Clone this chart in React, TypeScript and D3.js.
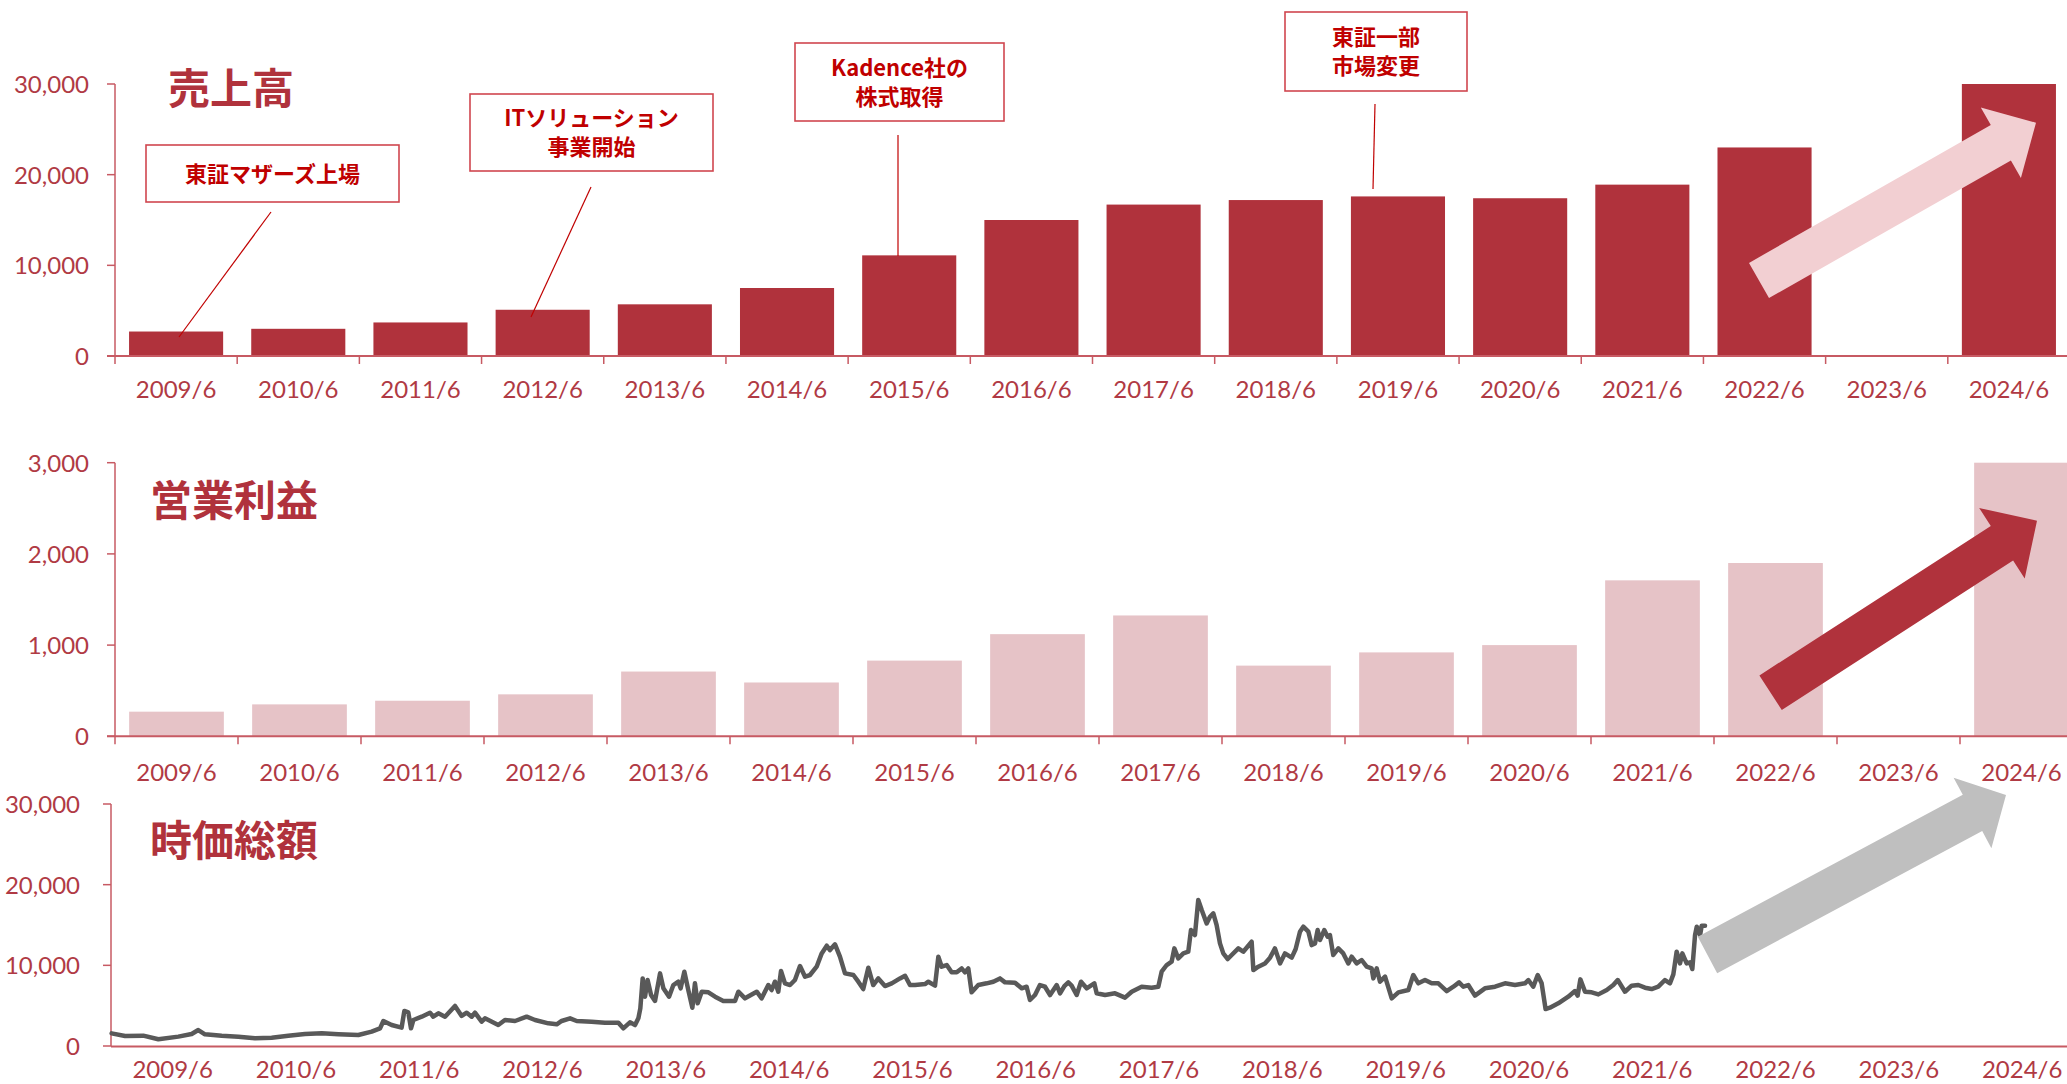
import React from "react";
import * as d3 from "d3";

// ---------- DATA ----------
const categories = [
  "2009/6", "2010/6", "2011/6", "2012/6", "2013/6", "2014/6", "2015/6", "2016/6",
  "2017/6", "2018/6", "2019/6", "2020/6", "2021/6", "2022/6", "2023/6", "2024/6",
];
const salesValues = [2700, 3000, 3700, 5100, 5700, 7500, 11100, 15000, 16700, 17200, 17600, 17400, 18900, 23000, null, 30000];
const profitValues = [270, 350, 390, 460, 710, 590, 830, 1120, 1325, 775, 920, 1000, 1710, 1900, null, 3000];
const salesTicks = [0, 10000, 20000, 30000];
const profitTicks = [0, 1000, 2000, 3000];
const mcapTicks = [0, 10000, 20000, 30000];
const labelYears = [2009, 2010, 2011, 2012, 2013, 2014, 2015, 2016, 2017, 2018, 2019, 2020, 2021, 2022, 2023, 2024];

const mcapYears = [
  2009.005, 2009.114, 2009.262, 2009.384, 2009.546, 2009.654, 2009.708, 2009.762, 2009.898, 2010.033,
  2010.168, 2010.303, 2010.438, 2010.573, 2010.709, 2010.844, 2011.006, 2011.114, 2011.182, 2011.209,
  2011.276, 2011.357, 2011.379, 2011.411, 2011.433, 2011.452, 2011.52, 2011.587, 2011.614, 2011.655,
  2011.709, 2011.79, 2011.844, 2011.885, 2011.925, 2011.952, 2012.006, 2012.033, 2012.141, 2012.195,
  2012.277, 2012.371, 2012.439, 2012.547, 2012.615, 2012.655, 2012.723, 2012.777, 2012.898, 2013.006,
  2013.115, 2013.155, 2013.209, 2013.25, 2013.277, 2013.293, 2013.312, 2013.331, 2013.352, 2013.38,
  2013.412, 2013.453, 2013.48, 2013.526, 2013.561, 2013.601, 2013.62, 2013.65, 2013.682, 2013.715,
  2013.736, 2013.758, 2013.791, 2013.845, 2013.899, 2013.966, 2014.061, 2014.088, 2014.142, 2014.237,
  2014.277, 2014.331, 2014.358, 2014.385, 2014.412, 2014.434, 2014.466, 2014.507, 2014.547, 2014.588,
  2014.629, 2014.669, 2014.723, 2014.764, 2014.805, 2014.831, 2014.872, 2014.912, 2014.953, 2015.021,
  2015.061, 2015.101, 2015.142, 2015.182, 2015.223, 2015.277, 2015.332, 2015.399, 2015.44, 2015.48,
  2015.521, 2015.602, 2015.629, 2015.683, 2015.71, 2015.737, 2015.778, 2015.818, 2015.859, 2015.899,
  2015.926, 2015.953, 2015.98, 2016.034, 2016.102, 2016.156, 2016.21, 2016.251, 2016.332, 2016.386,
  2016.426, 2016.453, 2016.494, 2016.534, 2016.575, 2016.616, 2016.67, 2016.697, 2016.732, 2016.764,
  2016.791, 2016.832, 2016.867, 2016.913, 2016.975, 2016.994, 2017.062, 2017.143, 2017.224, 2017.278,
  2017.359, 2017.44, 2017.494, 2017.521, 2017.562, 2017.602, 2017.624, 2017.656, 2017.697, 2017.737,
  2017.759, 2017.791, 2017.818, 2017.846, 2017.886, 2017.913, 2017.94, 2017.967, 2017.994, 2018.021,
  2018.057, 2018.089, 2018.143, 2018.183, 2018.251, 2018.265, 2018.305, 2018.359, 2018.4, 2018.44,
  2018.481, 2018.521, 2018.576, 2018.608, 2018.643, 2018.67, 2018.711, 2018.738, 2018.765, 2018.786,
  2018.805, 2018.84, 2018.867, 2018.886, 2018.913, 2018.954, 2018.994, 2019.035, 2019.062, 2019.103,
  2019.143, 2019.184, 2019.224, 2019.238, 2019.265, 2019.292, 2019.333, 2019.387, 2019.441, 2019.522,
  2019.562, 2019.603, 2019.657, 2019.711, 2019.765, 2019.833, 2019.887, 2019.933, 2019.968, 2020.008,
  2020.062, 2020.143, 2020.225, 2020.306, 2020.387, 2020.468, 2020.495, 2020.535, 2020.571, 2020.603,
  2020.635, 2020.67, 2020.738, 2020.819, 2020.873, 2020.895, 2020.917, 2020.955, 2021.009, 2021.063,
  2021.131, 2021.184, 2021.22, 2021.279, 2021.333, 2021.387, 2021.441, 2021.495, 2021.549, 2021.603,
  2021.644, 2021.671, 2021.698, 2021.725, 2021.744, 2021.779, 2021.806, 2021.825, 2021.847, 2021.861,
  2021.888, 2021.901, 2021.928,
];
const mcapValues = [
  1570, 1240, 1280, 830, 1160, 1490, 1980, 1450, 1280, 1160,
  950, 1030, 1280, 1490, 1570, 1450, 1360, 1780, 2190, 3100,
  2600, 2270, 4340, 4170, 2190, 3220, 3630, 4130, 3630, 4050,
  3630, 4960, 3720, 4130, 3630, 4130, 3020, 3430, 2600, 3220,
  3100, 3630, 3220, 2810, 2690, 3100, 3430, 3100, 3020, 2890,
  2890, 2190, 2930, 2600, 3430, 4670, 8380, 6110, 8180, 6320,
  5580, 9000, 7150, 6110, 7560, 7970, 7150, 9210, 6940, 4750,
  7770, 5290, 6730, 6650, 6110, 5580, 5580, 6730, 5910, 6730,
  5910, 7560, 6940, 7970, 6730, 9290, 7770, 7560, 8180, 9910,
  8590, 8800, 9830, 11480, 12430, 11890, 12600, 11070, 9000, 8800,
  7970, 7060, 9710, 7560, 8380, 7430, 7770, 8380, 8710, 7560,
  7560, 7680, 7970, 7480, 11070, 9830, 10040, 9130, 9130, 9620,
  9130, 9620, 6650, 7560, 7770, 7970, 8380, 7890, 7850, 7150,
  7350, 5700, 6320, 7560, 7350, 6320, 7560, 6530, 7430, 7890,
  7480, 6320, 7970, 7150, 7770, 6530, 6320, 6530, 5990, 6730,
  7350, 7230, 7350, 9210, 10040, 10450, 12100, 10860, 11480, 11690,
  14370, 13750, 18090, 16850, 15200, 16020, 16440, 14990, 12720, 11480,
  10780, 11280, 12100, 11690, 12930, 9420, 9830, 10240, 10950, 12100,
  10240, 11480, 10950, 12020, 14170, 14790, 14170, 12510, 12720, 14370,
  13130, 14370, 13550, 13750, 11280, 12100, 11480, 10240, 11070, 10240,
  10660, 9830, 9620, 8380, 9620, 7970, 8590, 5910, 6650, 6940,
  8800, 7770, 8180, 7770, 7770, 6810, 7350, 7890, 7350, 7560,
  6240, 7150, 7350, 7770, 7560, 7770, 8180, 7350, 8800, 7770,
  4580, 4750, 5290, 6110, 6810, 6240, 8260, 6730, 6650, 6400,
  6940, 7560, 8180, 6730, 7480, 7560, 7230, 7060, 7350, 8180,
  7770, 8880, 11690, 10240, 11480, 10240, 10370, 9540, 13750, 14790,
  13750, 14910, 14910,
];

const chartTitles = ["売上高", "営業利益", "時価総額"];
const milestoneLines = [
  ["東証マザーズ上場"],
  ["ITソリューション", "事業開始"],
  ["Kadence社の", "株式取得"],
  ["東証一部", "市場変更"],
];

// ---------- LAYOUT / STYLE ----------
const W = 2067;
const H = 1084;
const RED = "#b0323c";
const TEXT_RED = "#b03a44";
const AXIS = "#c75a63";
const NOTE_RED = "#c00000";
const PINK = "#e6c3c7";
const LIGHT_PINK = "#f2cfd2";
const GRAY_ARROW = "#bfbfbf";
const LINE_GRAY = "#595959";
const NUM_FONT = "Lato, 'Noto Sans', sans-serif";
const JP_FONT = "'Noto Sans CJK JP', 'Noto Sans', sans-serif";

const noteLayout = [
  { box: [146, 145, 253, 57], from: [271, 212], to: [179, 337] },
  { box: [470, 94, 243, 77], from: [591, 187], to: [531, 317] },
  { box: [795, 43, 209, 78], from: [898, 135], to: [898, 256] },
  { box: [1285, 12, 182, 79], from: [1375, 104], to: [1373, 189] },
];

function arrowPath(tail: number[], tip: number[], sw: number, hw: number, hl: number) {
  const dx = tip[0] - tail[0];
  const dy = tip[1] - tail[1];
  const len = Math.hypot(dx, dy);
  const ux = dx / len, uy = dy / len;
  const nx = -uy, ny = ux;
  const neck = [tip[0] - ux * hl, tip[1] - uy * hl];
  const pts = [
    [tail[0] + nx * sw, tail[1] + ny * sw],
    [neck[0] + nx * sw, neck[1] + ny * sw],
    [neck[0] + nx * hw, neck[1] + ny * hw],
    tip,
    [neck[0] - nx * hw, neck[1] - ny * hw],
    [neck[0] - nx * sw, neck[1] - ny * sw],
    [tail[0] - nx * sw, tail[1] - ny * sw],
  ];
  return "M" + pts.map((p) => p[0].toFixed(1) + "," + p[1].toFixed(1)).join("L") + "Z";
}

const fmt = d3.format(",");

function BarPanel({ values, ticks, yMax, x0, x1, y0, yTop, fill, title, titleX, titleY, labelY }: any) {
  const x = d3.scaleBand<string>().domain(categories).range([x0, x1]).paddingInner(0.23).paddingOuter(0.115);
  const y = d3.scaleLinear().domain([0, yMax]).range([y0, yTop]);
  const step = x.step();
  return (
    <g>
      {categories.map((c, i) =>
        values[i] == null ? null : (
          <rect key={c} x={x(c)} y={y(values[i])} width={x.bandwidth()} height={y(0) - y(values[i])} fill={fill} />
        )
      )}
      <line x1={x0} x2={x0} y1={yTop} y2={y0 + 8} stroke={AXIS} strokeWidth={1.5} />
      {ticks.map((t: number) => (
        <g key={t}>
          <line x1={x0 - 8} x2={x0} y1={y(t)} y2={y(t)} stroke={AXIS} strokeWidth={1.5} />
          <text x={x0 - 26} y={y(t) + 9} textAnchor="end" fontFamily={NUM_FONT} fontSize={24} fill={TEXT_RED}>
            {fmt(t)}
          </text>
        </g>
      ))}
      <line x1={x0 - 8} x2={W} y1={y0} y2={y0} stroke={AXIS} strokeWidth={2} />
      {categories.map((c, i) => (
        <g key={c}>
          {i > 0 && <line x1={x0 + i * step} x2={x0 + i * step} y1={y0} y2={y0 + 8} stroke={AXIS} strokeWidth={1.5} />}
          <text x={(x(c) as number) + x.bandwidth() / 2} y={labelY} textAnchor="middle" fontFamily={NUM_FONT} fontSize={24} fill={TEXT_RED}>
            {c}
          </text>
        </g>
      ))}
      <text x={titleX} y={titleY} fontFamily={JP_FONT} fontWeight={700} fontSize={42} fill={RED}>
        {title}
      </text>
    </g>
  );
}

export default function App() {
  const bx0 = 111;
  const xTime = d3.scaleLinear().domain([2009, 2025]).range([bx0, bx0 + 16 * 123.3]);
  const yB = d3.scaleLinear().domain([0, 30000]).range([1046, 804]);
  const pts = mcapYears.map((t, i) => [t, mcapValues[i]] as [number, number]);
  const line = d3.line<[number, number]>().x((d) => xTime(d[0])).y((d) => yB(d[1]));

  return (
    <svg width={W} height={H} style={{ position: "absolute", left: 0, top: 0, background: "#fff" }}>
      <rect x={0} y={0} width={W} height={H} fill="#fff" />

      <BarPanel values={salesValues} ticks={salesTicks} yMax={30000} x0={115} x1={2070} y0={356} yTop={84}
        fill={RED} title={chartTitles[0]} titleX={168} titleY={104} labelY={398} />
      {noteLayout.map((n, i) => {
        const [bx, by, bw, bh] = n.box;
        const lines = milestoneLines[i];
        const cy = by + bh / 2;
        return (
          <g key={i}>
            <line x1={n.from[0]} y1={n.from[1]} x2={n.to[0]} y2={n.to[1]} stroke={NOTE_RED} strokeWidth={1.2} />
            <rect x={bx} y={by} width={bw} height={bh} fill="#fff" stroke="#d0464f" strokeWidth={1.6} />
            {lines.map((l, j) => (
              <text key={j} x={bx + bw / 2} y={cy + (j - (lines.length - 1) / 2) * 29 + 8}
                textAnchor="middle" fontFamily={JP_FONT} fontWeight={700} fontSize={22} fill={NOTE_RED}>
                {l}
              </text>
            ))}
          </g>
        );
      })}
      <path d={arrowPath([1759, 280.5], [2036, 122.7], 20.3, 40.5, 40.5)} fill={LIGHT_PINK} />

      <BarPanel values={profitValues} ticks={profitTicks} yMax={3000} x0={115} x1={2083} y0={736.3} yTop={462.7}
        fill={PINK} title={chartTitles[1]} titleX={150} titleY={516} labelY={781} />
      <path d={arrowPath([1770.6, 692.7], [2037, 520.7], 20.6, 41.9, 41.7)} fill={RED} />

      <line x1={bx0} x2={bx0} y1={804} y2={1046} stroke={AXIS} strokeWidth={1.5} />
      {mcapTicks.map((t) => (
        <g key={t}>
          <line x1={bx0 - 8} x2={bx0} y1={yB(t)} y2={yB(t)} stroke={AXIS} strokeWidth={1.5} />
          <text x={bx0 - 31} y={yB(t) + 9} textAnchor="end" fontFamily={NUM_FONT} fontSize={24} fill={TEXT_RED}>
            {fmt(t)}
          </text>
        </g>
      ))}
      <line x1={bx0} x2={W} y1={1046.5} y2={1046.5} stroke={AXIS} strokeWidth={2} />
      {labelYears.map((yr, i) => (
        <text key={yr} x={xTime(yr + 0.5)} y={1078} textAnchor="middle" fontFamily={NUM_FONT} fontSize={24} fill={TEXT_RED}>
          {categories[i]}
        </text>
      ))}
      <path d={line(pts) as string} fill="none" stroke={LINE_GRAY} strokeWidth={4.5} strokeLinejoin="round" strokeLinecap="round" />
      <path d={arrowPath([1707.5, 955], [2006, 795], 20.6, 40, 38)} fill={GRAY_ARROW} />
      <text x={150} y={856} fontFamily={JP_FONT} fontWeight={700} fontSize={42} fill={RED}>
        {chartTitles[2]}
      </text>
    </svg>
  );
}
